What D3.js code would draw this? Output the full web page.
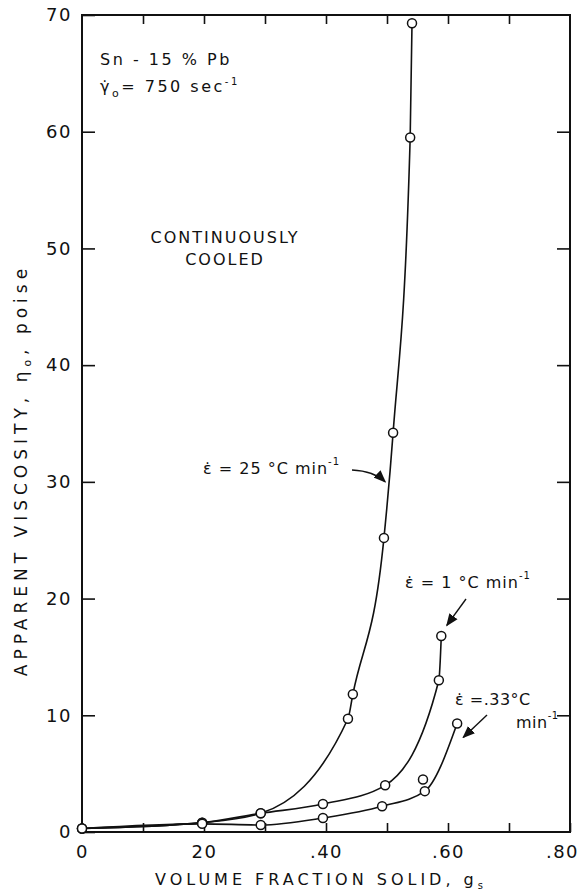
<html>
<head>
<meta charset="utf-8">
<script src="https://d3js.org/d3.v7.min.js"></script>
<style>
body { margin: 0; background: white; }
text { font-family: "DejaVu Sans", sans-serif; fill: #111; }
.lbl { font-size: 15px; letter-spacing: 1.5px; }
.tick text { font-size: 18px; letter-spacing: 1.5px; }
</style>
</head>
<body>
<svg width="584" height="894"></svg>
<script>
// volume fraction solid / apparent viscosity (poise)
var gsFast  = [0, 0.197, 0.293, 0.436, 0.444, 0.495, 0.510, 0.538, 0.541];
var etaFast = [0.3, 0.8, 1.6, 9.7, 11.8, 25.2, 34.2, 59.5, 69.3];

var gsMid  = [0, 0.197, 0.293, 0.395, 0.497, 0.585, 0.589];
var etaMid = [0.3, 0.8, 1.6, 2.4, 4.0, 13.0, 16.8];

var gsSlow  = [0, 0.197, 0.293, 0.395, 0.492, 0.562, 0.615];
var etaSlow = [0.3, 0.7, 0.6, 1.2, 2.2, 3.5, 9.3];

// lone point sitting off the curves near .56
var gsStray  = [0.559];
var etaStray = [4.5];

var xTicks = [0, 0.1, 0.2, 0.3, 0.4, 0.5, 0.6, 0.7, 0.8];
var xTickLabels = {0: "0", 0.2: "20", 0.4: ".40", 0.6: ".60", 0.8: ".80"};
var yTicks = [0, 10, 20, 30, 40, 50, 60, 70];

var svg = d3.select("svg");

var x = d3.scaleLinear().domain([0, 0.8]).range([82, 570]);
var y = d3.scaleLinear().domain([0, 70]).range([832, 15]);

svg.append("defs").append("marker")
  .attr("id", "arr")
  .attr("viewBox", "0 0 10 10")
  .attr("refX", 9).attr("refY", 5)
  .attr("markerWidth", 9).attr("markerHeight", 9)
  .attr("orient", "auto")
  .append("path")
  .attr("d", "M0,1 L10,5 L0,9 z")
  .attr("fill", "#111");

// frame
svg.append("rect")
  .attr("x", 82).attr("y", 15)
  .attr("width", 488).attr("height", 817)
  .attr("fill", "none").attr("stroke", "#111").attr("stroke-width", 2);

// axes, ticks pointing inward
svg.append("g")
  .attr("transform", "translate(82,0)")
  .call(d3.axisLeft(y).tickValues(yTicks).tickSizeInner(-13).tickSizeOuter(0).tickPadding(10))
  .call(function(g) { g.select(".domain").remove(); });

svg.append("g")
  .attr("transform", "translate(570,0)")
  .call(d3.axisRight(y).tickValues(yTicks.slice(1, 7)).tickSizeInner(-13).tickSizeOuter(0).tickFormat(""))
  .call(function(g) { g.select(".domain").remove(); });

svg.append("g")
  .attr("transform", "translate(0,832)")
  .call(d3.axisBottom(x).tickValues(xTicks).tickSizeInner(-9).tickSizeOuter(0).tickPadding(13)
    .tickFormat(function(d) { return xTickLabels[d] || ""; }))
  .call(function(g) {
    g.select(".domain").remove();
    g.selectAll(".tick text").filter(function(d) { return d === 0.8; }).attr("dx", -8);
  });

svg.append("g")
  .attr("transform", "translate(0,15)")
  .call(d3.axisTop(x).tickValues(xTicks.slice(1, 8)).tickSizeInner(-9).tickSizeOuter(0).tickFormat(""))
  .call(function(g) { g.select(".domain").remove(); });

svg.selectAll(".tick line").attr("stroke", "#111").attr("stroke-width", 1.6);

// curves
var line = d3.line()
  .x(function(d) { return x(d[0]); })
  .y(function(d) { return y(d[1]); })
  .curve(d3.curveMonotoneX);

var series = [
  d3.zip(gsFast, etaFast),
  d3.zip(gsMid, etaMid),
  d3.zip(gsSlow, etaSlow)
];

svg.selectAll(".curve")
  .data(series)
  .enter()
  .append("path")
  .attr("class", "curve")
  .attr("d", line)
  .attr("fill", "none")
  .attr("stroke", "#111")
  .attr("stroke-width", 1.6);

var pts = d3.merge(series).concat(d3.zip(gsStray, etaStray));
svg.selectAll(".pt")
  .data(pts)
  .enter()
  .append("circle")
  .attr("class", "pt")
  .attr("cx", function(d) { return x(d[0]); })
  .attr("cy", function(d) { return y(d[1]); })
  .attr("r", 4.5)
  .attr("fill", "white")
  .attr("stroke", "#111")
  .attr("stroke-width", 1.5);

// axis titles
svg.append("text")
  .attr("class", "lbl")
  .attr("x", 321).attr("y", 885)
  .attr("text-anchor", "middle")
  .style("font-size", "16px")
  .style("letter-spacing", "4px")
  .html('VOLUME FRACTION SOLID, g<tspan font-size="10" dy="4">s</tspan>');

svg.append("text")
  .attr("class", "lbl")
  .attr("transform", "translate(27,470) rotate(-90)")
  .attr("text-anchor", "middle")
  .style("font-size", "17px")
  .style("letter-spacing", "5px")
  .html('APPARENT VISCOSITY, η<tspan font-size="11" dy="4">o</tspan><tspan dy="-4">, poise</tspan>');

// annotations
svg.append("text").attr("class", "lbl")
  .attr("x", 100).attr("y", 65)
  .style("font-size", "16px").style("letter-spacing", "2.5px")
  .text("Sn - 15 % Pb");

svg.append("text").attr("class", "lbl")
  .attr("x", 100).attr("y", 92)
  .style("font-size", "16px").style("letter-spacing", "2.5px")
  .html('γ̇<tspan font-size="11" dy="5">o</tspan><tspan dy="-5">= 750 sec</tspan><tspan font-size="10" dy="-7">-1</tspan>');

svg.append("text").attr("class", "lbl")
  .attr("x", 225).attr("y", 243).attr("text-anchor", "middle")
  .style("font-size", "16px").style("letter-spacing", "2px")
  .text("CONTINUOUSLY");
svg.append("text").attr("class", "lbl")
  .attr("x", 225).attr("y", 265).attr("text-anchor", "middle")
  .style("font-size", "16px").style("letter-spacing", "2px")
  .text("COOLED");

svg.append("text").attr("class", "lbl")
  .attr("x", 203).attr("y", 474)
  .style("font-size", "16px").style("letter-spacing", "1px")
  .html('ε̇ = 25 °C  min<tspan font-size="10" dy="-9">-1</tspan>');

svg.append("text").attr("class", "lbl")
  .attr("x", 405).attr("y", 588)
  .style("font-size", "16px").style("letter-spacing", "1px")
  .html('ε̇ = 1 °C  min<tspan font-size="10" dy="-9">-1</tspan>');

svg.append("text").attr("class", "lbl")
  .attr("x", 455).attr("y", 705)
  .style("font-size", "16px").style("letter-spacing", "0.5px")
  .text("ε̇ =.33°C");
svg.append("text").attr("class", "lbl")
  .attr("x", 516).attr("y", 728)
  .style("font-size", "16px").style("letter-spacing", "0.5px")
  .html('min<tspan font-size="10" dy="-9">-1</tspan>');

// arrows to the curves
svg.append("path")
  .attr("d", "M352,470 Q374,471 " + x(0.497) + "," + y(30.0))
  .attr("fill", "none").attr("stroke", "#111").attr("stroke-width", 1.4)
  .attr("marker-end", "url(#arr)");
svg.append("path")
  .attr("d", "M466,599 L" + x(0.598) + "," + y(17.7))
  .attr("fill", "none").attr("stroke", "#111").attr("stroke-width", 1.4)
  .attr("marker-end", "url(#arr)");
svg.append("path")
  .attr("d", "M487,715 L" + x(0.625) + "," + y(8.1))
  .attr("fill", "none").attr("stroke", "#111").attr("stroke-width", 1.4)
  .attr("marker-end", "url(#arr)");
</script>
</body>
</html>
